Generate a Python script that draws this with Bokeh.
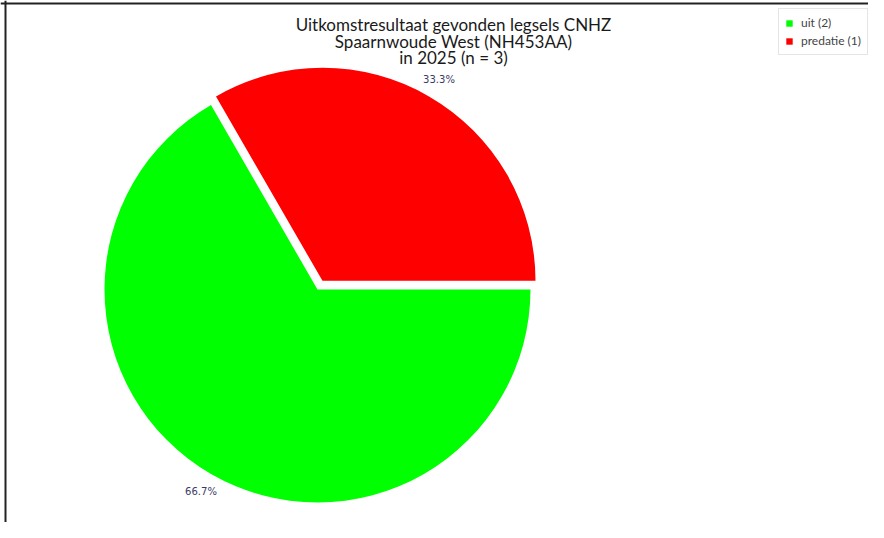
import numpy as np
from bokeh.plotting import figure
from bokeh.models import ColumnDataSource, Range1d, Span
from bokeh.core.properties import value
from bokeh.embed import file_html
from bokeh.resources import INLINE

# ---- data ----
categories = ["uit", "predatie"]
counts = [2, 1]
colors = ["#00ff00", "#ff0000"]
explode = [0, 10]
title_lines = ["Uitkomstresultaat gevonden legsels CNHZ",
               "Spaarnwoude West (NH453AA)",
               "in 2025 (n = 3)"]

# ---- layout (1 data unit = 1 pixel; y is negative downward) ----
W, H = 868, 522
CX, CY, R = 317, -289, 213
LABEL_R = 233

p = figure(width=W, height=H, output_backend="svg", toolbar_location=None,
           x_range=Range1d(0, W), y_range=Range1d(-H, 0), min_border=0,
           match_aspect=False)
p.axis.visible = False
p.grid.visible = False
p.outline_line_color = None
p.background_fill_color = "white"
p.border_fill_color = "white"

total = sum(counts)
fracs = [c / total for c in counts]
cum = np.cumsum([0] + fracs[:-1])
starts = [-c * 2 * np.pi for c in cum]
ends = [-(c + f) * 2 * np.pi for c, f in zip(cum, fracs)]
mids = [(s + e) / 2 for s, e in zip(starts, ends)]
xs = [CX + d * np.cos(m) for d, m in zip(explode, mids)]
ys = [CY + d * np.sin(m) for d, m in zip(explode, mids)]

src = ColumnDataSource(dict(
    x=xs, y=ys, start=starts, end=ends, color=colors,
    legend=[f"{c} ({n})" for c, n in zip(categories, counts)],
))
p.wedge(x="x", y="y", radius=R, start_angle="start", end_angle="end",
        direction="clock", fill_color="color", line_color=None,
        source=src, legend_field="legend")

lab_src = ColumnDataSource(dict(
    x=[x + LABEL_R * np.cos(m) for x, m in zip(xs, mids)],
    y=[y + LABEL_R * np.sin(m) for y, m in zip(ys, mids)],
    text=[f"{f * 100:.1f}%" for f in fracs],
))
p.text(x="x", y="y", text="text", source=lab_src, text_align="center",
       text_baseline="middle", text_font=value("DejaVu Sans"),
       text_font_size="10px", text_color="#3a3a66")

title_src = ColumnDataSource(dict(
    x=[453, 453, 453], y=[-24, -41, -57], text=title_lines))
p.text(x="x", y="y", text="text", source=title_src, text_align="center",
       text_baseline="alphabetic", text_font=value("Lato"),
       text_font_size="17px", text_color="#1a1a1a")

leg = p.legend[0]
leg.location = (778, 467)
leg.label_text_font = "Lato"
leg.label_text_font_size = "12px"
leg.glyph_width = 8
leg.glyph_height = 8
leg.label_height = 12
leg.label_standoff = 8
leg.spacing = 3
leg.padding = 6
leg.margin = 0
leg.border_line_color = "#cccccc"
leg.background_fill_alpha = 1

p.add_layout(Span(location=5, dimension="height", line_color="#222222", line_width=2))
p.add_layout(Span(location=-3, dimension="width", line_color="#222222", line_width=2))

open("out.html", "w").write(file_html(p, INLINE))
